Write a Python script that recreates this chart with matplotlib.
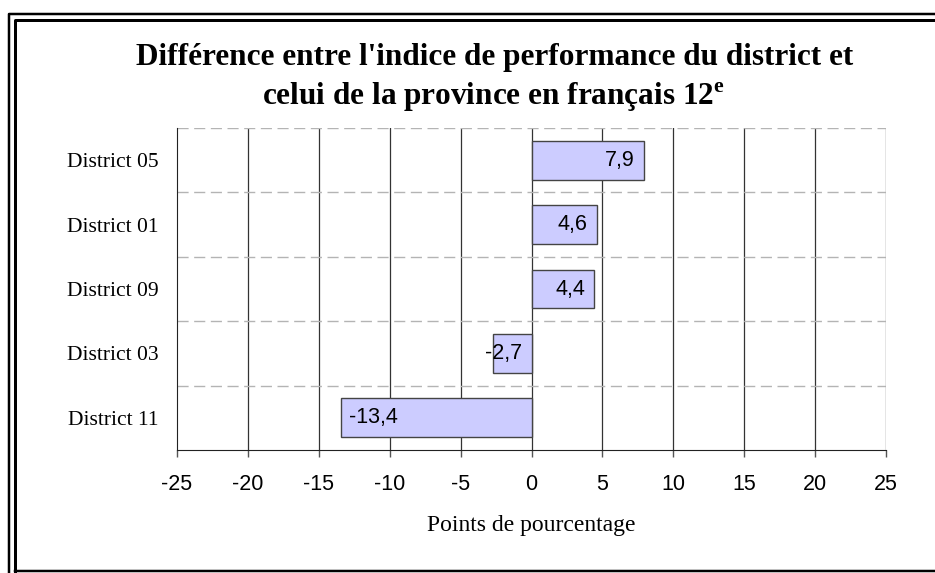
import matplotlib.pyplot as plt
from matplotlib.lines import Line2D

# data
districts = ['District 05', 'District 01', 'District 09', 'District 03', 'District 11']
ecarts = [7.9, 4.6, 4.4, -2.7, -13.4]
xticks = [-25, -20, -15, -10, -5, 0, 5, 10, 15, 20, 25]

W, H = 935, 573
fig = plt.figure(figsize=(W / 100, H / 100), dpi=100)
ax = fig.add_axes([177 / W, 1 - 450 / H, (886 - 177) / W, (450 - 128) / H])

pos = list(range(len(districts)))
ax.barh(pos, ecarts, height=0.6, color='#ccccff', edgecolor='#444444', linewidth=1, zorder=3)

# labels inside the bar end, like Excel
lab = dict(va='center', fontsize=15.5, family='Liberation Sans', zorder=4, textcoords='offset pixels')
for y, v in zip(pos, ecarts):
    txt = '{:.1f}'.format(v).replace('.', ',')
    if v >= 0:
        ax.annotate(txt, (v, y), xytext=(-9, 0), ha='right', **lab)
    elif v > -4:
        ax.annotate(txt, (0, y), xytext=(-9, 0), ha='right', **lab)
    else:
        ax.annotate(txt, (v, y), xytext=(8, 0), ha='left', **lab)

ax.set_xlim(-25, 25)
ax.set_ylim(len(districts) - 0.5, -0.5)
ax.set_xticks(xticks)
ax.set_xticklabels([str(t) for t in xticks], family='Liberation Sans', fontsize=15.5)
ax.set_yticks(pos)
ax.set_yticklabels(districts, family='Liberation Serif', fontsize=15.5)
ax.tick_params(axis='y', length=0, pad=13)
ax.tick_params(axis='x', length=5, width=1, color='#555555', pad=12)

# grid
for t in xticks[1:]:
    ax.axvline(t, color='#333333', lw=0.9, zorder=1)
for b in [i - 0.5 for i in range(len(districts))]:
    ax.axhline(b, color='#b4b4b4', lw=1, ls=(0, (8, 4)), zorder=1)

ax.spines['top'].set_visible(False)
ax.spines['right'].set_visible(False)
ax.spines['left'].set_color('#222222')
ax.spines['bottom'].set_color('#222222')

ax.set_xlabel('Points de pourcentage', family='Liberation Serif', fontsize=17, labelpad=15)

fig.text(495 / W, 1 - 57 / H, "Différence entre l'indice de performance du district et",
         ha='center', va='center', fontsize=22.5, fontweight='bold', family='Liberation Serif')
fig.text(493 / W, 1 - 97 / H, "celui de la province en français 12$^{\\mathregular{e}}$",
         ha='center', va='center', fontsize=22.5, fontweight='bold', family='Liberation Serif')

# double frame around the chart
for xs, ys, lw in [
    ([8.5, 8.5, W], [H, 13.5, 13.5], 2.5),
    ([14.5, 14.5, W], [571, 19.5, 19.5], 3),
    ([14.5, W], [571, 571], 2.5),
]:
    fx = [x / W for x in xs]
    fy = [1 - y / H for y in ys]
    fig.add_artist(Line2D(fx, fy, transform=fig.transFigure, color='black', lw=lw * 0.72))

fig.savefig('out.png', dpi=100)
